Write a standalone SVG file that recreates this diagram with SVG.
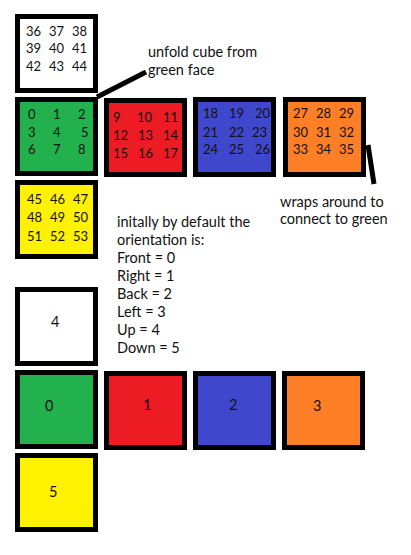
<svg xmlns="http://www.w3.org/2000/svg" width="411" height="555" viewBox="0 0 411 555">
<style>
.b{stroke:#000;stroke-width:5}
.w{fill:#fff}.g{fill:#22b14c}.r{fill:#ed1c24}.u{fill:#3f48cc}.o{fill:#ff7f27}.y{fill:#fff200}
text{font-family:Lato,"Open Sans",sans-serif;font-size:14.5px;fill:#111}
.f text{font-size:13px}
</style>
<rect width="411" height="555" fill="#fff"/>
<g id="connectors">
<line x1="97" y1="97" x2="146" y2="72" stroke="#000" stroke-width="5"/>
<line x1="368" y1="145" x2="374" y2="184" stroke="#000" stroke-width="5"/>
</g>
<g id="up-face" class="f">
<rect class="b w" x="17.5" y="16.5" width="78" height="74"/>
<text x="26" y="36">36</text><text x="49" y="36">37</text><text x="72" y="36">38</text>
<text x="26" y="53">39</text><text x="49" y="53">40</text><text x="72" y="53">41</text>
<text x="26" y="71">42</text><text x="49" y="71">43</text><text x="72" y="71">44</text>
</g>
<g id="front-face" class="f">
<rect class="b g" x="17.5" y="99.5" width="78" height="74"/>
<text x="28" y="119">0</text><text x="53" y="119">1</text><text x="78" y="119">2</text>
<text x="28" y="137">3</text><text x="53" y="137">4</text><text x="81" y="137">5</text>
<text x="28" y="154">6</text><text x="53" y="154">7</text><text x="78" y="154">8</text>
</g>
<g id="right-face" class="f">
<rect class="b r" x="106.5" y="100.5" width="78" height="74"/>
<text x="113" y="122">9</text><text x="137" y="122">10</text><text x="163" y="122">11</text>
<text x="113" y="140">12</text><text x="138" y="140">13</text><text x="163" y="140">14</text>
<text x="113" y="158">15</text><text x="138" y="158">16</text><text x="163" y="158">17</text>
</g>
<g id="back-face" class="f">
<rect class="b u" x="195.5" y="99.5" width="78" height="75"/>
<text x="203" y="118">18</text><text x="229" y="118">19</text><text x="255" y="118">20</text>
<text x="203" y="137">21</text><text x="229" y="137">22</text><text x="252" y="137">23</text>
<text x="203" y="154">24</text><text x="229" y="154">25</text><text x="255" y="154">26</text>
</g>
<g id="left-face" class="f">
<rect class="b o" x="285.5" y="99.5" width="78" height="75"/>
<text x="293" y="118">27</text><text x="316" y="118">28</text><text x="339" y="118">29</text>
<text x="293" y="137">30</text><text x="316" y="137">31</text><text x="339" y="137">32</text>
<text x="293" y="154">33</text><text x="316" y="154">34</text><text x="339" y="154">35</text>
</g>
<g id="down-face" class="f">
<rect class="b y" x="17.5" y="182.5" width="78" height="74"/>
<text x="27" y="204">45</text><text x="50" y="204">46</text><text x="73" y="204">47</text>
<text x="27" y="222">48</text><text x="50" y="222">49</text><text x="73" y="222">50</text>
<text x="27" y="241">51</text><text x="50" y="241">52</text><text x="73" y="241">53</text>
</g>
<g id="label-unfold">
<text x="148" y="57">unfold cube from</text>
<text x="148" y="75">green face</text>
</g>
<g id="label-wrap">
<text x="280" y="207">wraps around to</text>
<text x="280" y="224">connect to green</text>
</g>
<g id="label-orientation">
<text x="117" y="227">initally by default the</text>
<text x="117" y="245">orientation is:</text>
<text x="117" y="263">Front = 0</text>
<text x="117" y="281">Right = 1</text>
<text x="117" y="299">Back = 2</text>
<text x="117" y="317">Left = 3</text>
<text x="117" y="335">Up = 4</text>
<text x="117" y="353">Down = 5</text>
</g>
<g id="face-4">
<rect class="b w" x="17.5" y="289.5" width="78" height="74"/>
<text x="51" y="327">4</text>
</g>
<g id="face-0">
<rect class="b g" x="17.5" y="372.5" width="78" height="74"/>
<text x="45" y="411">0</text>
</g>
<g id="face-1">
<rect class="b r" x="106.5" y="373.5" width="78" height="74"/>
<text x="143" y="410">1</text>
</g>
<g id="face-2">
<rect class="b u" x="195.5" y="373.5" width="78" height="74"/>
<text x="229" y="410">2</text>
</g>
<g id="face-3">
<rect class="b o" x="284.5" y="373.5" width="78" height="74"/>
<text x="313" y="411">3</text>
</g>
<g id="face-5">
<rect class="b y" x="17.5" y="455.5" width="78" height="74"/>
<text x="49" y="497">5</text>
</g>
</svg>
